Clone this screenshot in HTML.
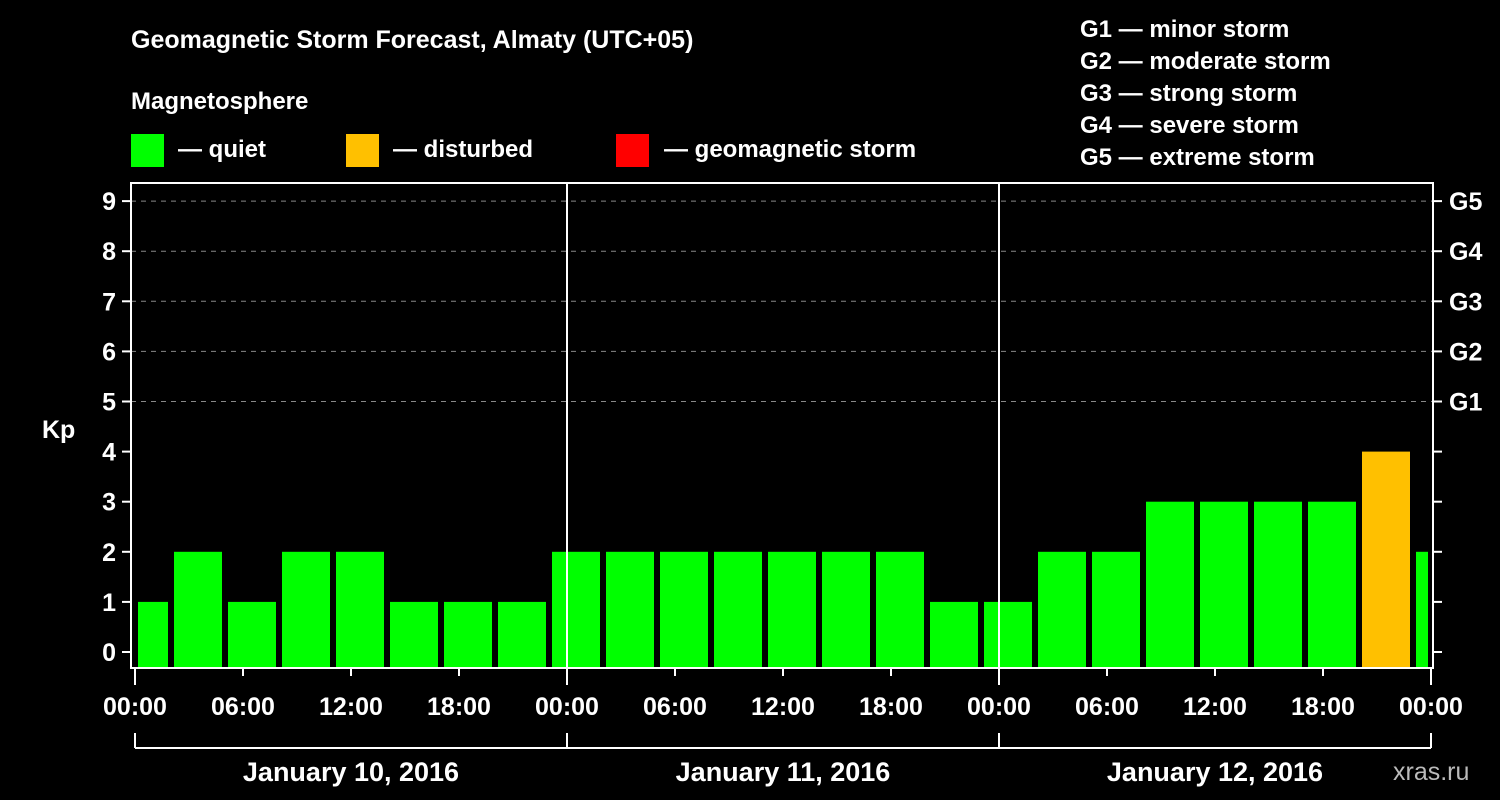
<!DOCTYPE html>
<html><head><meta charset="utf-8"><style>
html,body{margin:0;padding:0;background:#000;}
svg{display:block;font-family:"Liberation Sans",Arial,sans-serif;font-weight:bold;}
</style></head><body>
<svg id="chart" width="1500" height="800" viewBox="0 0 1500 800">
<rect width="1500" height="800" fill="#000"/>
<text x="131" y="48" fill="#fff" font-size="25">Geomagnetic Storm Forecast, Almaty (UTC+05)</text>
<text x="131" y="109" fill="#fff" font-size="24">Magnetosphere</text>
<g><rect x="131" y="134" width="33" height="33" fill="#00ff00"/><text x="178" y="157" fill="#fff" font-size="24">— quiet</text></g>
<g><rect x="346" y="134" width="33" height="33" fill="#ffc000"/><text x="393" y="157" fill="#fff" font-size="24">— disturbed</text></g>
<g><rect x="616" y="134" width="33" height="33" fill="#ff0000"/><text x="664" y="157" fill="#fff" font-size="24">— geomagnetic storm</text></g>
<g fill="#fff" font-size="24">
<text x="1080" y="37">G1 — minor storm</text>
<text x="1080" y="69">G2 — moderate storm</text>
<text x="1080" y="101">G3 — strong storm</text>
<text x="1080" y="133">G4 — severe storm</text>
<text x="1080" y="165">G5 — extreme storm</text>
</g>
<text x="42" y="438" fill="#fff" font-size="25">Kp</text>
<g id="grid"></g><g id="bars"></g><g id="axes"></g>
<text x="1393" y="780" fill="#bbb" font-size="25" font-weight="normal">xras.ru</text>
</svg>
<script>
const kpValues=[1,2,1,2,2,1,1,1,2,2,2,2,2,2,2,1,1,2,2,3,3,3,3,4,2];
const binStartHours=[-1,2,5,8,11,14,17,20,23,26,29,32,35,38,41,44,47,50,53,56,59,62,65,68,71];
const hourTicks=["00:00","06:00","12:00","18:00"];
const dayLabels=["January 10, 2016","January 11, 2016","January 12, 2016"];
const gLabels=["G1","G2","G3","G4","G5"];
const NS="http://www.w3.org/2000/svg";
const X0=135,PXH=18,Y0=652,PXK=50.1,BOTTOM=668,TOP=183,LEFT=131,RIGHT=1433;
const xs=h=>X0+Math.max(0,Math.min(72,h))*PXH;
const ys=v=>Y0-v*PXK;
function mk(tag,attrs,parent){const e=document.createElementNS(NS,tag);for(const k in attrs)e.setAttribute(k,attrs[k]);parent.appendChild(e);return e;}
const grid=document.getElementById('grid'),bars=document.getElementById('bars'),axes=document.getElementById('axes');
for(let v=5;v<=9;v++){const l=mk('line',{x1:LEFT,x2:RIGHT,y1:ys(v),y2:ys(v),stroke:'#888','stroke-dasharray':'5,5','stroke-width':1},grid);

}
kpValues.forEach((v,i)=>{const a=xs(binStartHours[i])+3,b=xs(binStartHours[i]+3)-3;
const c=v>=5?'#ff0000':(v>=4?'#ffc000':'#00ff00');
const r=mk('rect',{x:a,y:ys(v),width:b-a,height:BOTTOM-ys(v),fill:c},bars);

});
mk('rect',{x:LEFT,y:TOP,width:RIGHT-LEFT,height:BOTTOM-TOP,fill:'none',stroke:'#fff','stroke-width':2},axes);
[1,2].forEach(d=>{const l=mk('line',{x1:xs(24*d),x2:xs(24*d),y1:TOP,y2:BOTTOM,stroke:'#fff','stroke-width':2},axes);

});
for(let v=0;v<=9;v++){
mk('line',{x1:LEFT-9,x2:LEFT,y1:ys(v),y2:ys(v),stroke:'#fff','stroke-width':2},axes);
mk('line',{x1:RIGHT,x2:RIGHT+9,y1:ys(v),y2:ys(v),stroke:'#fff','stroke-width':2},axes);
const t=mk('text',{x:116,y:ys(v)+9,fill:'#fff','font-size':25,'text-anchor':'end'},axes);t.textContent=v;

}
gLabels.forEach((g,i)=>{const t=mk('text',{x:1449,y:ys(5+i)+9,fill:'#fff','font-size':25},axes);t.textContent=g;

});
for(let h=0;h<=72;h+=6){const isDay=h%24===0;
mk('line',{x1:xs(h),x2:xs(h),y1:BOTTOM,y2:BOTTOM+(isDay?17:8),stroke:'#fff','stroke-width':2},axes);
const t=mk('text',{x:xs(h),y:715,fill:'#fff','font-size':25,'text-anchor':'middle'},axes);t.textContent=hourTicks[(h/6)%4];

}
mk('line',{x1:xs(0),x2:xs(72),y1:748,y2:748,stroke:'#fff','stroke-width':2},axes);
for(let d=0;d<=3;d++)mk('line',{x1:xs(24*d),x2:xs(24*d),y1:733,y2:748,stroke:'#fff','stroke-width':2},axes);
dayLabels.forEach((s,d)=>{const t=mk('text',{x:xs(24*d+12),y:781,fill:'#fff','font-size':27,'text-anchor':'middle'},axes);t.textContent=s;

});
</script>
</body></html>
